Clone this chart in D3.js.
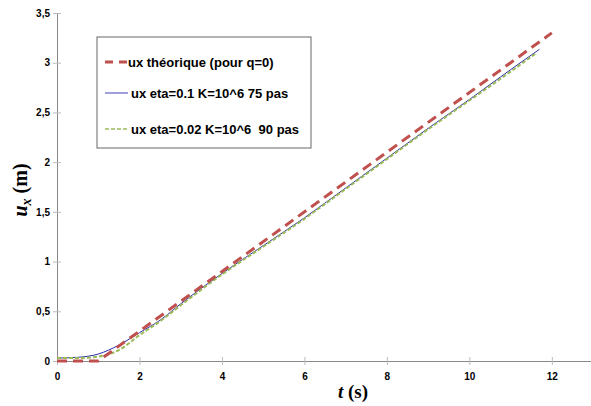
<!DOCTYPE html>
<html>
<head>
<meta charset="utf-8">
<script src="https://cdn.jsdelivr.net/npm/d3@7"></script>
<style>
  body { margin: 0; background: #fff; }
  svg { display: block; }
</style>
</head>
<body>
<div id="chart"></div>
<script>
// data
const tTheo = [0, 1, 12];
const uTheo = [0, 0, 3.3];

const tEta01 = [0, 0.5, 1, 1.5, 2, 2.5, 3, 4, 5, 6, 7, 8, 9, 10, 11, 11.7];
const uEta01 = [0.03, 0.037, 0.07, 0.16, 0.285, 0.41, 0.575, 0.88, 1.16, 1.44, 1.74, 2.04, 2.34, 2.63, 2.93, 3.135];

const tEta002 = [0, 0.5, 1, 1.5, 2, 2.5, 3, 4, 5, 6, 7, 8, 9, 10, 11, 11.6];
const uEta002 = [0.03, 0.03, 0.045, 0.11, 0.26, 0.4, 0.56, 0.87, 1.15, 1.43, 1.73, 2.03, 2.33, 2.62, 2.91, 3.09];

const xTicks = [0, 2, 4, 6, 8, 10, 12];
const yTicks = [0, 0.5, 1, 1.5, 2, 2.5, 3, 3.5];

const legendLabels = ['ux théorique (pour q=0)', 'ux eta=0.1 K=10^6 75 pas', 'ux eta=0.02 K=10^6  90 pas'];

const W = 591, H = 406;
const margin = { top: 13, left: 57, right: 0, bottom: 45 };
const width = W - margin.left - margin.right;
const height = H - margin.top - margin.bottom;

const svg = d3.select('#chart').append('svg')
    .attr('width', W)
    .attr('height', H);

const g = svg.append('g')
    .attr('transform', `translate(${margin.left},${margin.top})`);

const x = d3.scaleLinear().domain([0, 12.95]).range([0, width]);
const y = d3.scaleLinear().domain([0, 3.5]).range([height, 0]);

const axisColor = '#888';
const tickFont = '"Liberation Sans", Arial, sans-serif';

// y axis
const yAxis = d3.axisLeft(y).tickValues(yTicks).tickSize(0)
    .tickFormat(d => d3.format('.1~f')(d).replace('.', ','));
const yg = g.append('g').call(yAxis);
yg.select('.domain').attr('stroke', axisColor);
yg.selectAll('.tick line').remove();
yg.selectAll('.tick').append('line')
    .attr('x1', -4).attr('x2', 4).attr('stroke', '#bbb');
yg.selectAll('.tick text')
    .attr('x', -7)
    .style('font-family', tickFont)
    .style('font-weight', 'bold')
    .style('font-size', '10px')
    .attr('fill', '#000');

// x axis
const xAxis = d3.axisBottom(x).tickValues(xTicks).tickSize(0);
const xg = g.append('g').attr('transform', `translate(0,${height})`).call(xAxis);
xg.select('.domain').attr('stroke', axisColor);
xg.selectAll('.tick line').remove();
xg.selectAll('.tick').append('line')
    .attr('y1', -4).attr('y2', 4).attr('stroke', '#bbb');
xg.selectAll('.tick text')
    .attr('y', 12)
    .style('font-family', tickFont)
    .style('font-weight', 'bold')
    .style('font-size', '10px')
    .attr('fill', '#000');

// lines
const line = d3.line().x(d => x(d[0])).y(d => y(d[1]));

g.append('path')
    .datum(d3.zip(tEta01, uEta01))
    .attr('d', line.curve(d3.curveMonotoneX))
    .attr('fill', 'none')
    .attr('stroke', '#2b2ba8')
    .attr('stroke-width', 1);

g.append('path')
    .datum(d3.zip(tEta002, uEta002))
    .attr('d', line.curve(d3.curveMonotoneX))
    .attr('fill', 'none')
    .attr('stroke', '#9bbb59')
    .attr('stroke-width', 2)
    .attr('stroke-dasharray', '4,2');

g.append('path')
    .datum(d3.zip(tTheo, uTheo))
    .attr('d', line.curve(d3.curveLinear))
    .attr('fill', 'none')
    .attr('stroke', '#c0504d')
    .attr('stroke-width', 3)
    .attr('stroke-dasharray', '10,6');

// legend
const legend = svg.append('g').attr('transform', 'translate(97,37)');
legend.append('rect')
    .attr('width', 214).attr('height', 111)
    .attr('fill', '#fff').attr('stroke', '#666').attr('stroke-width', 1);

const legendStyles = [
    { color: '#c0504d', w: 3, dash: '8,6' },
    { color: '#7f7fd0', w: 1.5, dash: null },
    { color: '#9bbb59', w: 1.5, dash: '4,2' }
];
const rowY = [25, 56, 92];
legendLabels.forEach((lab, i) => {
    const row = legend.append('g').attr('transform', `translate(0,${rowY[i]})`);
    row.append('line')
        .attr('x1', 8).attr('x2', 31)
        .attr('stroke', legendStyles[i].color)
        .attr('stroke-width', legendStyles[i].w)
        .attr('stroke-dasharray', legendStyles[i].dash);
    row.append('text')
        .attr('x', i === 0 ? 31 : 34)
        .attr('dy', '0.35em')
        .attr('xml:space', 'preserve')
        .style('white-space', 'pre')
        .style('font-family', tickFont)
        .style('font-weight', 'bold')
        .style('font-size', '13px')
        .text(lab);
});

// axis titles
const titleFont = '"Liberation Serif", "Times New Roman", serif';
const xt = svg.append('text')
    .attr('x', 353).attr('y', 398)
    .attr('text-anchor', 'middle')
    .style('font-family', titleFont)
    .style('font-weight', 'bold')
    .style('font-size', '19px');
xt.append('tspan').style('font-style', 'italic').text('t');
xt.append('tspan').text(' (s)');

const yt = svg.append('text')
    .attr('transform', 'translate(27,190) rotate(-90)')
    .attr('text-anchor', 'middle')
    .style('font-family', titleFont)
    .style('font-weight', 'bold')
    .style('font-size', '20px');
yt.append('tspan').style('font-style', 'italic').text('u');
yt.append('tspan').style('font-style', 'italic').style('font-size', '14px').attr('dy', 4).text('x');
yt.append('tspan').attr('dy', -4).text(' (m)');
</script>
</body>
</html>
